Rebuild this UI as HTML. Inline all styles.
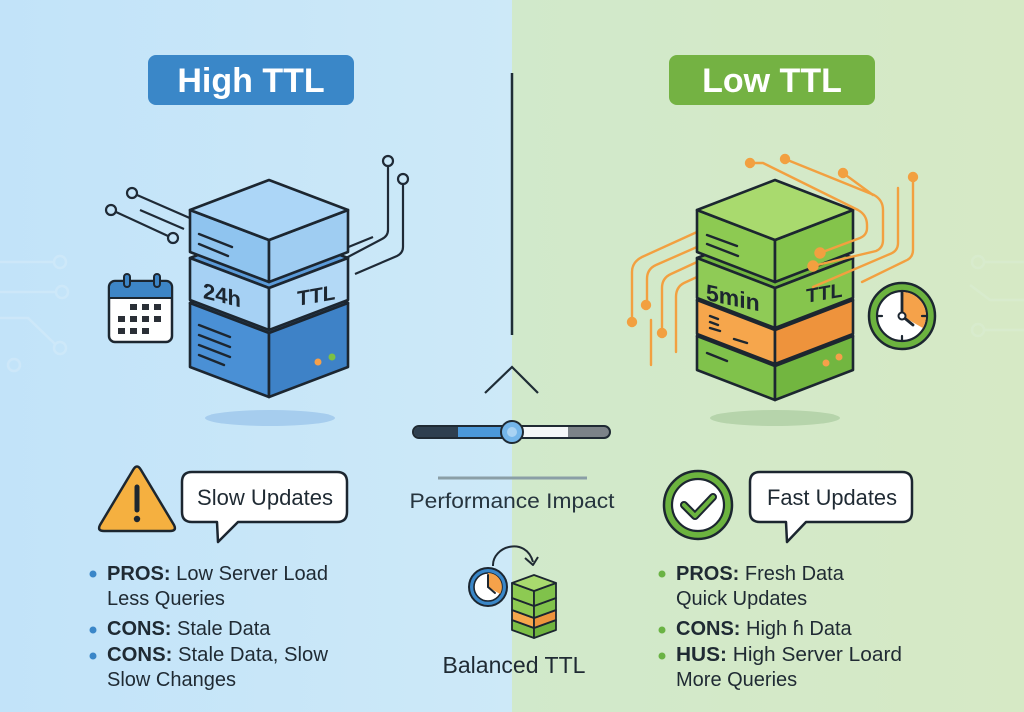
<!DOCTYPE html>
<html><head><meta charset="utf-8"><style>
html,body{margin:0;padding:0;}
body{width:1024px;height:712px;overflow:hidden;}
svg{display:block;font-family:"Liberation Sans",sans-serif;}
</style></head><body>
<svg width="1024" height="712" viewBox="0 0 1024 712" xmlns="http://www.w3.org/2000/svg">
<defs>
<linearGradient id="bgL" x1="0" x2="1" y1="0" y2="0"><stop offset="0" stop-color="#c2e3f9"/><stop offset="1" stop-color="#cde9f8"/></linearGradient>
<linearGradient id="bgR" x1="0" x2="1" y1="0" y2="0"><stop offset="0" stop-color="#d1e9cb"/><stop offset="1" stop-color="#d6e9c5"/></linearGradient>
</defs>
<rect x="0" y="0" width="512" height="712" fill="url(#bgL)"/>
<rect x="512" y="0" width="512" height="712" fill="url(#bgR)"/>

<!-- faint background circuits -->
<g stroke="#d6ecfa" stroke-width="2.5" fill="none" opacity="0.55">
<path d="M0 262 H54"/><circle cx="60" cy="262" r="6"/>
<path d="M0 292 H56"/><circle cx="62" cy="292" r="6"/>
<path d="M0 318 H28 L55 344"/><circle cx="60" cy="348" r="6"/>
<circle cx="14" cy="365" r="6"/>
</g>
<g stroke="#dbeed4" stroke-width="2.5" fill="none" opacity="0.55">
<path d="M1024 262 H985"/><circle cx="978" cy="262" r="6"/>
<path d="M1024 300 H990 L970 285"/>
<path d="M1024 330 H985"/><circle cx="978" cy="330" r="6"/>
</g>

<!-- badges -->
<rect x="148" y="55" width="206" height="50" rx="8" fill="#3a87c8"/>
<text x="251" y="92" font-size="34" font-weight="bold" fill="#ffffff" text-anchor="middle">High TTL</text>
<rect x="669" y="55" width="206" height="50" rx="8" fill="#74b243"/>
<text x="772" y="92" font-size="34" font-weight="bold" fill="#ffffff" text-anchor="middle">Low TTL</text>

<!-- center divider -->
<line x1="512" y1="73" x2="512" y2="335" stroke="#1f2d36" stroke-width="2.5"/>
<polyline points="485,393 512,367 538,393" fill="none" stroke="#1f2d36" stroke-width="2.2"/>

<!-- slider -->
<rect x="413" y="426" width="197" height="12" rx="6" fill="#7c8388" stroke="#1f2a33" stroke-width="2"/>
<path d="M419 427 H458 V437 H419 A5 5 0 0 1 419 427 Z" fill="#2e3f4f"/>
<rect x="458" y="427" width="48" height="10" fill="#4b98d9"/>
<rect x="518" y="427" width="50" height="10" fill="#f4f7f8"/>
<circle cx="512" cy="432" r="11" fill="#74b6ea" stroke="#1f2a33" stroke-width="2"/>
<circle cx="512" cy="432" r="5" fill="#a9d3f3"/>
<line x1="438" y1="478" x2="587" y2="478" stroke="#8a9ea6" stroke-width="3"/>
<text x="512" y="508" font-size="21" fill="#26343e" text-anchor="middle" textLength="205" lengthAdjust="spacingAndGlyphs">Performance Impact</text>

<!-- ============ LEFT SERVER ============ -->
<ellipse cx="270" cy="418" rx="65" ry="8" fill="#a6cdee"/>
<g stroke="#1f2a36" stroke-width="2.2" fill="none">
<circle cx="132" cy="193" r="5"/><line x1="137" y1="195" x2="192" y2="219"/>
<circle cx="111" cy="210" r="5"/><line x1="116" y1="212" x2="168" y2="236"/><circle cx="173" cy="238" r="5"/>
<line x1="140" y1="210" x2="184" y2="229"/>
<circle cx="388" cy="161" r="5"/><path d="M388 166 V230 Q388 236 382 239 L346 258"/>
<circle cx="403" cy="179" r="5"/><path d="M403 184 V247 Q403 253 397 256 L355 274"/>
<line x1="373" y1="237" x2="346" y2="248"/>
</g>
<g stroke="#1c2630" stroke-width="2.6" stroke-linejoin="round">
<polygon points="269,273 348,303 269,333 190,303" fill="#3f83c8"/>
<polygon points="190,303 269,333 269,397 190,367" fill="#4a90d5"/>
<polygon points="269,333 348,303 348,367 269,397" fill="#3e82c7"/>
<polygon points="269,228 348,258 269,288 190,258" fill="#5b9bd9"/>
<polygon points="190,258 269,288 269,330 190,300" fill="#a6d1f4"/>
<polygon points="269,288 348,258 348,300 269,330" fill="#b3d9f6"/>
<polygon points="190,210 269,240 269,282 190,252" fill="#8fc4ef"/>
<polygon points="269,240 348,210 348,252 269,282" fill="#9fcdf2"/>
<polygon points="269,180 348,210 269,240 190,210" fill="#acd6f7"/>
</g>
<g stroke="#1c2630" stroke-width="2.4" stroke-linecap="round">
<line x1="199" y1="234" x2="232" y2="247"/>
<line x1="199" y1="244" x2="228" y2="256"/>
<line x1="199" y1="325" x2="230" y2="337"/>
<line x1="199" y1="335" x2="230" y2="347"/>
<line x1="199" y1="345" x2="230" y2="357"/>
<line x1="199" y1="355" x2="224" y2="365"/>
</g>
<circle cx="318" cy="362" r="3.5" fill="#f5a04a"/>
<circle cx="332" cy="357" r="3.5" fill="#7cc045"/>
<text x="0" y="0" font-size="22" font-weight="bold" fill="#1c2630" transform="translate(203,298) skewY(14)">24h</text>
<text x="0" y="0" font-size="21" font-weight="bold" fill="#1c2630" transform="translate(297,306) skewY(-10)">TTL</text>

<!-- calendar -->
<rect x="109" y="281" width="63" height="61" rx="6" fill="#ffffff" stroke="#1c2630" stroke-width="2.5"/>
<path d="M115 282 H166 A5 5 0 0 1 171 287 V298 H110 V287 A5 5 0 0 1 115 282 Z" fill="#3d85c6"/>
<line x1="110" y1="298" x2="171" y2="298" stroke="#1c2630" stroke-width="2"/>
<rect x="124" y="274" width="6" height="13" rx="3" fill="#3d85c6" stroke="#1c2630" stroke-width="2"/>
<rect x="154" y="274" width="6" height="13" rx="3" fill="#3d85c6" stroke="#1c2630" stroke-width="2"/>
<g fill="#2a2f36">
<rect x="130" y="304" width="7" height="6"/><rect x="142" y="304" width="7" height="6"/><rect x="154" y="304" width="7" height="6"/>
<rect x="118" y="316" width="7" height="6"/><rect x="130" y="316" width="7" height="6"/><rect x="142" y="316" width="7" height="6"/><rect x="154" y="316" width="7" height="6"/>
<rect x="118" y="328" width="7" height="6"/><rect x="130" y="328" width="7" height="6"/><rect x="142" y="328" width="7" height="6"/>
</g>

<!-- ============ RIGHT SERVER ============ -->
<ellipse cx="775" cy="418" rx="65" ry="8" fill="#b6d4ab"/>
<g stroke="#f2a040" stroke-width="2.4" fill="none" stroke-linecap="round">
<path d="M697 232 L642 257 Q632 262 632 272 V320"/><circle cx="632" cy="322" r="4" fill="#f2a040"/>
<path d="M697 247 L656 265 Q647 269 647 279 V303"/><circle cx="646" cy="305" r="4" fill="#f2a040"/>
<path d="M697 262 L671 274 Q662 278 662 288 V331"/><circle cx="662" cy="333" r="4" fill="#f2a040"/>
<path d="M697 277 L684 283 Q676 287 676 297 V352"/>
<line x1="651" y1="320" x2="651" y2="365"/>
</g>
<g stroke="#1c2630" stroke-width="2.6" stroke-linejoin="round">
<polygon points="775,306 853,336 775,366 697,336" fill="#7dbf47"/>
<polygon points="697,336 775,366 775,400 697,370" fill="#80c24b"/>
<polygon points="775,366 853,336 853,370 775,400" fill="#72b640"/>
<polygon points="775,270 853,300 775,330 697,300" fill="#ee9038"/>
<polygon points="697,300 775,330 775,364 697,334" fill="#f6a64c"/>
<polygon points="775,330 853,300 853,334 775,364" fill="#ee933c"/>
<polygon points="775,228 853,258 775,288 697,258" fill="#72b640"/>
<polygon points="697,258 775,288 775,328 697,298" fill="#8fcb56"/>
<polygon points="775,288 853,258 853,298 775,328" fill="#86c54d"/>
<polygon points="697,210 775,240 775,282 697,252" fill="#8dca52"/>
<polygon points="775,240 853,210 853,252 775,282" fill="#84c44b"/>
<polygon points="775,180 853,210 775,240 697,210" fill="#a9da6e"/>
</g>
<g stroke="#1c2630" stroke-width="2.4" stroke-linecap="round">
<line x1="707" y1="235" x2="737" y2="246"/>
<line x1="707" y1="244" x2="738" y2="256"/>
<line x1="710" y1="316" x2="718" y2="319"/>
<line x1="710" y1="322" x2="718" y2="325"/>
<line x1="710" y1="328" x2="720" y2="331"/>
<line x1="734" y1="339" x2="747" y2="343"/>
<line x1="707" y1="353" x2="727" y2="361"/>
</g>
<circle cx="826" cy="363" r="3.5" fill="#f5a04a"/>
<circle cx="839" cy="357" r="3.5" fill="#f5a04a"/>
<text x="0" y="0" font-size="23" font-weight="bold" fill="#1c2630" transform="translate(706,300) skewY(12)">5min</text>
<text x="0" y="0" font-size="20" font-weight="bold" fill="#1c2630" transform="translate(806,303) skewY(-10)">TTL</text>
<g stroke="#f2a040" stroke-width="2.4" fill="none" stroke-linecap="round">
<circle cx="750" cy="163" r="4" fill="#f2a040"/><path d="M750 163 H763 L858 210 Q867 215 867 225 V228 Q867 235 860 238 L820 253"/><circle cx="820" cy="253" r="4.5" fill="#f2a040"/>
<circle cx="785" cy="159" r="4" fill="#f2a040"/><path d="M785 159 L874 195 Q883 200 883 210 V240 Q883 248 876 251 L813 266"/><circle cx="813" cy="266" r="4.5" fill="#f2a040"/>
<circle cx="843" cy="173" r="4" fill="#f2a040"/><path d="M843 173 L873 195"/>
<path d="M898 188 V243 Q898 251 890 254 L813 287"/>
<circle cx="913" cy="177" r="4" fill="#f2a040"/><path d="M913 177 V250 Q913 258 905 261 L862 282"/>
</g>

<!-- clock right -->
<circle cx="902" cy="316" r="33" fill="#6cb33f" stroke="#1c2630" stroke-width="2.5"/>
<circle cx="902" cy="316" r="25" fill="#ffffff" stroke="#1c2630" stroke-width="2.2"/>
<path d="M902 316 L902 292 A24 24 0 0 1 922.8 328 Z" fill="#f5a24a"/>
<g stroke="#1c2630" stroke-width="2.2" stroke-linecap="round">
<line x1="902" y1="292" x2="902" y2="296"/><line x1="902" y1="336" x2="902" y2="340"/>
<line x1="878" y1="316" x2="882" y2="316"/><line x1="922" y1="316" x2="926" y2="316"/>
<line x1="902" y1="316" x2="902" y2="293" stroke-width="2.8"/>
<line x1="902" y1="316" x2="913" y2="325" stroke-width="2.8"/>
</g>
<circle cx="902" cy="316" r="3.5" fill="#ffffff" stroke="#1c2630" stroke-width="2"/>

<!-- ============ Balanced icon ============ -->
<path d="M493 566 C492 546 526 536 533 562" fill="none" stroke="#1f2a33" stroke-width="2"/>
<polyline points="525,558 533,565 538,557" fill="none" stroke="#1f2a33" stroke-width="2" stroke-linejoin="round"/>
<circle cx="488" cy="587" r="19" fill="#3a87c8" stroke="#1c2630" stroke-width="2"/>
<circle cx="488" cy="587" r="14" fill="#ffffff" stroke="#1c2630" stroke-width="1.6"/>
<path d="M488 587 L488 573 A14 14 0 0 1 500 594 Z" fill="#f5a24a"/>
<g stroke="#1c2630" stroke-width="2" stroke-linecap="round">
<line x1="488" y1="587" x2="488" y2="575"/><line x1="488" y1="587" x2="495" y2="593"/>
</g>
<g stroke="#1c2630" stroke-width="1.8" stroke-linejoin="round">
<polygon points="512,620 534,628 534,638 512,630" fill="#7dbf47"/>
<polygon points="534,628 556,620 556,630 534,638" fill="#6fb33e"/>
<polygon points="512,610 534,618 534,628 512,620" fill="#f6a64c"/>
<polygon points="534,618 556,610 556,620 534,628" fill="#ee933c"/>
<polygon points="512,598 534,606 534,618 512,610" fill="#8dca52"/>
<polygon points="534,606 556,598 556,610 534,618" fill="#80c24b"/>
<polygon points="512,583 534,591 534,606 512,598" fill="#8dca52"/>
<polygon points="534,591 556,583 556,598 534,606" fill="#80c24b"/>
<polygon points="534,575 556,583 534,591 512,583" fill="#a9da6e"/>
</g>
<text x="514" y="673" font-size="23" fill="#1f2a33" text-anchor="middle" textLength="143" lengthAdjust="spacingAndGlyphs">Balanced TTL</text>

<!-- ============ Left bottom ============ -->
<path d="M133 470 Q137 463 141 470 L174 525 Q177 531 170 531 H104 Q97 531 100 525 Z" fill="#f5b040" stroke="#1c2630" stroke-width="2.5" stroke-linejoin="round"/>
<line x1="137" y1="487" x2="137" y2="510" stroke="#1c2630" stroke-width="5" stroke-linecap="round"/>
<circle cx="137" cy="519" r="3.2" fill="#1c2630"/>
<path d="M192 472 H337 Q347 472 347 482 V512 Q347 522 337 522 H238 L218 542 L217 522 H192 Q182 522 182 512 V482 Q182 472 192 472 Z" fill="#ffffff" stroke="#1c2630" stroke-width="2.5" stroke-linejoin="round"/>
<text x="265" y="505" font-size="22" fill="#1f2a33" text-anchor="middle" textLength="136" lengthAdjust="spacingAndGlyphs">Slow Updates</text>
<g font-size="20" fill="#1f2a33">
<circle cx="93" cy="574" r="3.5" fill="#3a86c8"/>
<text x="107" y="580" textLength="221" lengthAdjust="spacingAndGlyphs"><tspan font-weight="bold">PROS:</tspan> Low Server Load</text>
<text x="107" y="605">Less Queries</text>
<circle cx="93" cy="630" r="3.5" fill="#3a86c8"/>
<text x="107" y="635"><tspan font-weight="bold">CONS:</tspan> Stale Data</text>
<circle cx="93" cy="656" r="3.5" fill="#3a86c8"/>
<text x="107" y="661" textLength="221" lengthAdjust="spacingAndGlyphs"><tspan font-weight="bold">CONS:</tspan> Stale Data, Slow</text>
<text x="107" y="686">Slow Changes</text>
</g>

<!-- ============ Right bottom ============ -->
<circle cx="698" cy="505" r="34" fill="#6cb33f" stroke="#1c2630" stroke-width="2.5"/>
<circle cx="698" cy="505" r="26" fill="#ffffff" stroke="#1c2630" stroke-width="2.2"/>
<polyline points="684,505 695,516 713,497" fill="none" stroke="#1c2630" stroke-width="8" stroke-linecap="round" stroke-linejoin="round"/>
<polyline points="684,505 695,516 713,497" fill="none" stroke="#6cb33f" stroke-width="4" stroke-linecap="round" stroke-linejoin="round"/>
<path d="M760 472 H902 Q912 472 912 482 V512 Q912 522 902 522 H806 L787 542 L786 522 H760 Q750 522 750 512 V482 Q750 472 760 472 Z" fill="#ffffff" stroke="#1c2630" stroke-width="2.5" stroke-linejoin="round"/>
<text x="832" y="505" font-size="22" fill="#1f2a33" text-anchor="middle" textLength="130" lengthAdjust="spacingAndGlyphs">Fast Updates</text>
<g font-size="20" fill="#1f2a33">
<circle cx="662" cy="574" r="3.5" fill="#6ab344"/>
<text x="676" y="580"><tspan font-weight="bold">PROS:</tspan> Fresh Data</text>
<text x="676" y="605">Quick Updates</text>
<circle cx="662" cy="630" r="3.5" fill="#6ab344"/>
<text x="676" y="635"><tspan font-weight="bold">CONS:</tspan> High ɦ Data</text>
<circle cx="662" cy="656" r="3.5" fill="#6ab344"/>
<text x="676" y="661" textLength="226" lengthAdjust="spacingAndGlyphs"><tspan font-weight="bold">HUS:</tspan> High Server Loard</text>
<text x="676" y="686">More Queries</text>
</g>
</svg>
</body></html>
